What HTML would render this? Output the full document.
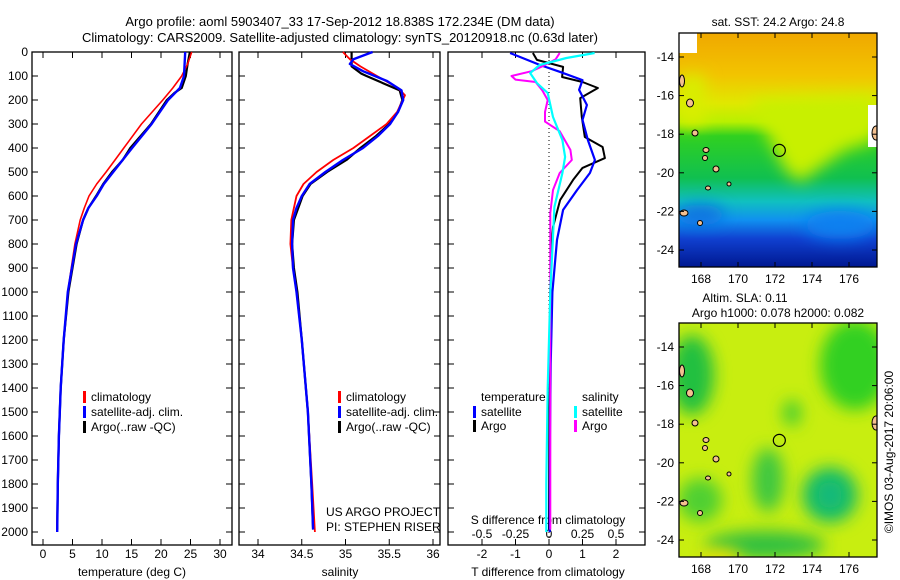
<!DOCTYPE html>
<html><head><meta charset="utf-8"><style>
body{margin:0;background:#fff;width:900px;height:580px;overflow:hidden}
svg{display:block;font-family:"Liberation Sans",sans-serif}
text{font-size:12px;fill:#000}
</style></head><body>
<svg id="fig" width="900" height="580">
<defs>
<linearGradient id="sstg" x1="0" y1="0" x2="0" y2="1">
<stop offset="0" stop-color="#f0a800"/><stop offset="0.18" stop-color="#f2c400"/>
<stop offset="0.3" stop-color="#e0e800"/><stop offset="0.38" stop-color="#b8f000"/>
<stop offset="0.44" stop-color="#30d020"/><stop offset="0.62" stop-color="#10c050"/>
<stop offset="0.72" stop-color="#10c0c0"/><stop offset="0.8" stop-color="#1090f0"/>
<stop offset="0.88" stop-color="#1040d0"/><stop offset="1" stop-color="#001890"/>
</linearGradient>
<filter id="bl" filterUnits="userSpaceOnUse" x="600" y="0" width="300" height="580"><feGaussianBlur stdDeviation="8"/></filter>
<clipPath id="c1"><rect x="679" y="33" width="198" height="234"/></clipPath>
<clipPath id="c2"><rect x="679" y="323" width="198" height="234"/></clipPath>
</defs>
<text x="340" y="26" text-anchor="middle" style="font-size:13px">Argo profile: aoml 5903407_33 17-Sep-2012 18.838S 172.234E (DM data)</text>
<text x="340" y="42" text-anchor="middle" style="font-size:13px">Climatology: CARS2009. Satellite-adjusted climatology: synTS_20120918.nc (0.63d later)</text>
<g id="g"></g>
</svg>
<script>
// ---------- data ----------
const depthTicks=[0,100,200,300,400,500,600,700,800,900,1000,1100,1200,1300,1400,1500,1600,1700,1800,1900,2000];
const tempTicks=[0,5,10,15,20,25,30];
const salTicks=[34,34.5,35,35.5,36];
const tdTicks=[-2,-1,0,1,2];
const sdTicks=[-0.5,-0.25,0,0.25,0.5];
const sdTickLabels=["-0.5","-0.25","0","0.25","0.5"];
const tClimD=[0,50,100,150,200,300,400,450,500,550,600,650,700,800,900,1000,1200,1400,1600,1800,2000];
const tClimV=[25.2,24.5,23.5,22,20.3,16.7,13.7,12.2,10.7,9.1,7.8,7.0,6.3,5.4,4.8,4.2,3.5,3.0,2.7,2.5,2.35];
const tSatD=[0,100,150,170,200,300,400,500,550,600,650,700,800,900,1000,1200,1400,1600,1800,2000];
const tSatV=[24.1,23.9,23.2,22.4,21.2,18.4,15.1,11.9,10.3,9.1,7.7,6.8,5.6,4.9,4.2,3.5,3.0,2.7,2.5,2.4];
const tArgoD=[0,50,100,150,170,200,300,400,450,500,550,600,650,700,800,900,1000,1200,1400,1600,1800,1990];
const tArgoV=[24.9,24.5,24.2,23.5,22.3,21.0,18.3,14.8,13.5,11.7,10.2,9.0,7.7,6.8,5.7,5.0,4.3,3.5,3.0,2.7,2.5,2.4];
const sClimD=[0,30,60,100,150,180,250,300,350,400,450,500,550,600,700,800,900,1000,1200,1500,1800,2000];
const sClimV=[34.97,35.05,35.17,35.36,35.6,35.68,35.59,35.47,35.28,35.09,34.86,34.67,34.52,34.44,34.38,34.37,34.4,34.44,34.5,34.57,34.62,34.65];
const sSatD=[0,30,50,80,120,160,200,250,300,350,400,450,500,550,600,650,700,800,900,1000,1200,1500,1800,1990];
const sSatV=[35.31,35.09,35.05,35.2,35.47,35.64,35.66,35.6,35.51,35.37,35.2,34.97,34.77,34.59,34.5,34.44,34.4,34.39,34.4,34.44,34.5,34.57,34.61,34.63];
const sArgoD=[0,60,90,100,130,160,200,250,300,350,400,450,500,550,600,700,800,900,1000,1200,1500,1800,1990];
const sArgoV=[35.07,35.07,35.18,35.24,35.43,35.62,35.65,35.6,35.5,35.35,35.17,35.01,34.79,34.6,34.51,34.41,34.39,34.41,34.45,34.5,34.57,34.61,34.63];
const dTsatD=[4,54,83,117,158,221,283,367,450,504,575,658,783,1000,1300,1600,2000];
const dTsatV=[-1.16,-0.27,0.33,1.0,0.9,1.13,1.0,1.16,1.37,1.22,0.84,0.42,0.24,0.1,0.05,0.03,0.02];
const dTargoD=[4,33,62,104,125,150,192,271,354,396,442,483,533,617,729,783,1000,1300,1600,1990];
const dTargoV=[-0.48,-0.36,0.42,0.39,1.0,1.46,0.93,0.98,1.07,1.6,1.67,1.0,0.72,0.33,0.12,0.09,0.04,0.02,0.01,0.0];
const dSargoD=[4,30,60,80,100,115,125,160,200,250,290,330,408,450,504,575,671,800,1200,1600,1990];
const dSargoV=[0.08,0.05,-0.05,-0.13,-0.28,-0.25,-0.1,-0.05,-0.01,-0.03,-0.03,0.08,0.16,0.17,0.08,0.03,0.01,0.01,0.01,0.01,0.01];
const dSsatD=[4,25,54,88,129,171,271,367,437,504,646,771,1000,1400,1800,2000];
const dSsatV=[0.34,0.13,-0.07,-0.14,-0.09,-0.01,0.03,0.1,0.12,0.1,0.04,0.03,0.01,-0.01,-0.02,-0.02];
const mapLons=[168,170,172,174,176];
const mapLats=[-14,-16,-18,-20,-22,-24];
const argoLon=172.234, argoLat=-18.838;

// ---------- helpers ----------
const NS="http://www.w3.org/2000/svg", G=document.getElementById('g');
function el(t,a,p){const e=document.createElementNS(NS,t);for(const k in a)e.setAttribute(k,a[k]);(p||G).appendChild(e);return e;}
function txt(x,y,s,anchor,extra){const e=el('text',Object.assign({x:x,y:y,'text-anchor':anchor||'start'},extra||{}));e.textContent=s;return e;}
const Y=d=>52+d*0.24;
const X1=t=>43+t*5.9, X2=s=>258+(s-34)*87.5, X3=t=>549+t*33.5, XS=s=>549+s*134;
const panels=[[32,232],[239,440],[448,645]];

panels.forEach((p,i)=>{
  const r=el('rect',{x:p[0],y:Y(0),width:p[1]-p[0],height:545-Y(0),fill:'none',stroke:'#000','stroke-width':1.3});
  
  
  depthTicks.forEach(d=>{
    el('line',{x1:p[0],x2:p[0]+6,y1:Y(d),y2:Y(d),stroke:'#000'});
    el('line',{x1:p[1]-6,x2:p[1],y1:Y(d),y2:Y(d),stroke:'#000'});
  });
});
depthTicks.forEach(d=>{
  const t=txt(28,Y(d)+4,String(d),'end');
  
  
});
function xTicks(ticks,f,labels,p,ly){
  ticks.forEach((v,i)=>{
    const x=f(v);
    el('line',{x1:x,x2:x,y1:Y(0),y2:Y(0)+6,stroke:'#000'});
    el('line',{x1:x,x2:x,y1:539,y2:545,stroke:'#000'});
    const t=txt(x,ly,labels[i],'middle');
    
    
  });
}
xTicks(tempTicks,X1,tempTicks.map(String),panels[0],558);
xTicks(salTicks,X2,salTicks.map(String),panels[1],558);
xTicks(tdTicks,X3,tdTicks.map(String),panels[2],558);
sdTicks.forEach((v,i)=>{const t=txt(XS(v),538,sdTickLabels[i],'middle');
  
  });
[[132,'temperature (deg C)','x-axis-title-temperature'],[340,'salinity','x-axis-title-salinity'],[548,'T difference from climatology','x-axis-title-t-diff']].forEach(a=>{
  const t=txt(a[0],576,a[1],'middle');
  
  
});
{const t=txt(548,524,'S difference from climatology','middle');
 
 }
el('line',{x1:X3(0),x2:X3(0),y1:Y(0),y2:545,stroke:'#000','stroke-dasharray':'1,3'});

function line(D,V,f,col,w,name){
  const pts=D.map((d,i)=>f(V[i]).toFixed(1)+','+Y(d).toFixed(1)).join(' ');
  const e=el('polyline',{points:pts,fill:'none',stroke:col,'stroke-width':w,'stroke-linejoin':'round'});
  
  
}
line(tArgoD,tArgoV,X1,'#000',2.2,'temp-argo-line');
line(tClimD,tClimV,X1,'#f00',1.6,'temp-climatology-line');
line(tSatD,tSatV,X1,'#00f',2.4,'temp-satellite-line');
line(sArgoD,sArgoV,X2,'#000',2.2,'sal-argo-line');
line(sClimD,sClimV,X2,'#f00',1.8,'sal-climatology-line');
line(sSatD,sSatV,X2,'#00f',2.4,'sal-satellite-line');
line(dTargoD,dTargoV,X3,'#000',2,'tdiff-argo-line');
line(dTsatD,dTsatV,X3,'#00f',2.2,'tdiff-satellite-line');
line(dSargoD,dSargoV,XS,'#f0f',2,'sdiff-argo-line');
line(dSsatD,dSsatV,XS,'#0ff',2.2,'sdiff-satellite-line');

function leg(x,y,col,label,name){
  if(col){const r=el('rect',{x:x,y:y-6,width:3,height:12,fill:col});
    
    }
  const t=txt(x+8,y+4,label);
  
  
}
[83,338].forEach((x,i)=>{
  leg(x,397,'#f00','climatology','legend-climatology');
  leg(x,412,'#00f','satellite-adj. clim.','legend-satellite-adj');
  leg(x,427,'#000','Argo(..raw -QC)','legend-argo');
});
leg(473,397,null,'temperature','legend-temperature-header');
leg(473,412,'#00f','satellite','legend-t-satellite');
leg(473,426,'#000','Argo','legend-t-argo');
leg(574,397,null,'salinity','legend-salinity-header');
leg(574,412,'#0ff','satellite','legend-s-satellite');
leg(574,426,'#f0f','Argo','legend-s-argo');
{const a=txt(326,516,'US ARGO PROJECT');
 const b=txt(326,531,'PI: STEPHEN RISER');}

// ---------- maps ----------
const MX=lon=>701+(lon-168)*18.5;
function map(top,idx){
  const MY=lat=>top+24+(-14-lat)*19.3;
  const g=el('g',{'clip-path':'url(#c'+idx+')'});
  
  
  if(idx===1){
    el('rect',{x:679,y:top,width:198,height:234,fill:'url(#sstg)'},g);
    el('polygon',{points:'750,100 877,95 877,140 845,150 800,182 785,170 765,130',fill:'#c8f000',filter:'url(#bl)'},g);
    el('polygon',{points:'679,75 705,75 705,125 679,125',fill:'#d8ee00',filter:'url(#bl)'},g);
    el('ellipse',{cx:840,cy:225,rx:35,ry:14,fill:'#1080f0',filter:'url(#bl)'},g);
    el('ellipse',{cx:700,cy:215,rx:25,ry:10,fill:'#1070e0',filter:'url(#bl)'},g);
    el('rect',{x:679,y:top,width:18,height:20,fill:'#fff'},g);
    el('rect',{x:868,y:top+72,width:9,height:42,fill:'#fff'},g);
  }else{
    el('rect',{x:679,y:top,width:198,height:234,fill:'#c8ee10'},g);
    el('ellipse',{cx:692,cy:375,rx:22,ry:40,fill:'#20c040',filter:'url(#bl)'},g);
    el('ellipse',{cx:855,cy:365,rx:35,ry:45,fill:'#30d020',filter:'url(#bl)'},g);
    el('ellipse',{cx:830,cy:495,rx:28,ry:28,fill:'#20c060',filter:'url(#bl)'},g);
    el('ellipse',{cx:830,cy:495,rx:12,ry:14,fill:'#10b880',filter:'url(#bl)'},g);
    el('ellipse',{cx:765,cy:545,rx:60,ry:14,fill:'#30c040',filter:'url(#bl)'},g);
    el('ellipse',{cx:768,cy:480,rx:16,ry:32,fill:'#40c840',filter:'url(#bl)'},g);
    el('ellipse',{cx:700,cy:500,rx:22,ry:22,fill:'#50d030',filter:'url(#bl)'},g);
    el('ellipse',{cx:792,cy:413,rx:9,ry:13,fill:'#40cc30',filter:'url(#bl)'},g);
    el('ellipse',{cx:720,cy:557,rx:22,ry:8,fill:'#f0e000',filter:'url(#bl)'},g);
  }
  [[682,top+48,2.5,6],[690,top+70,3.5,4],[695,top+100,3,3],[706,top+117,3,2.5],[705,top+125,2.5,2.5],[716,top+136,3,3],[729,top+151,2,2],[708,top+155,2.5,2],[684,top+180,4,3],[700,top+190,2.5,2.5]].forEach(s=>{
    el('ellipse',{cx:s[0],cy:s[1],rx:s[2],ry:s[3],fill:'#f4c090',stroke:'#000','stroke-width':1},g);
  });
  el('ellipse',{cx:876,cy:top+100,rx:4,ry:7,fill:'#f4c090',stroke:'#000'},g);
  const fr=el('rect',{x:679,y:top,width:198,height:234,fill:'none',stroke:'#000','stroke-width':1.3});
  
  
  const c=el('circle',{cx:MX(argoLon),cy:MY(argoLat),r:6,fill:'none',stroke:'#000','stroke-width':1.2});
  
  
  mapLons.forEach(l=>{
    el('line',{x1:MX(l),x2:MX(l),y1:top,y2:top+5,stroke:'#000'});
    el('line',{x1:MX(l),x2:MX(l),y1:top+229,y2:top+234,stroke:'#000'});
    const t=txt(MX(l),top+250,String(l),'middle');
    
    
  });
  mapLats.forEach(l=>{
    el('line',{x1:679,x2:684,y1:MY(l),y2:MY(l),stroke:'#000'});
    el('line',{x1:872,x2:877,y1:MY(l),y2:MY(l),stroke:'#000'});
    const t=txt(674,MY(l)+4,String(l),'end');
    
    
  });
}
map(33,1); map(323,2);
{const t=txt(778,26,'sat. SST: 24.2  Argo: 24.8','middle');
 const a=txt(745,302,'Altim. SLA: 0.11','middle');
 const b=txt(778,317,'Argo h1000: 0.078  h2000: 0.082','middle');
 const r=txt(0,0,'©IMOS 03-Aug-2017 20:06:00','middle',{transform:'translate(893,452) rotate(-90)'});
 }
</script>
</body></html>
